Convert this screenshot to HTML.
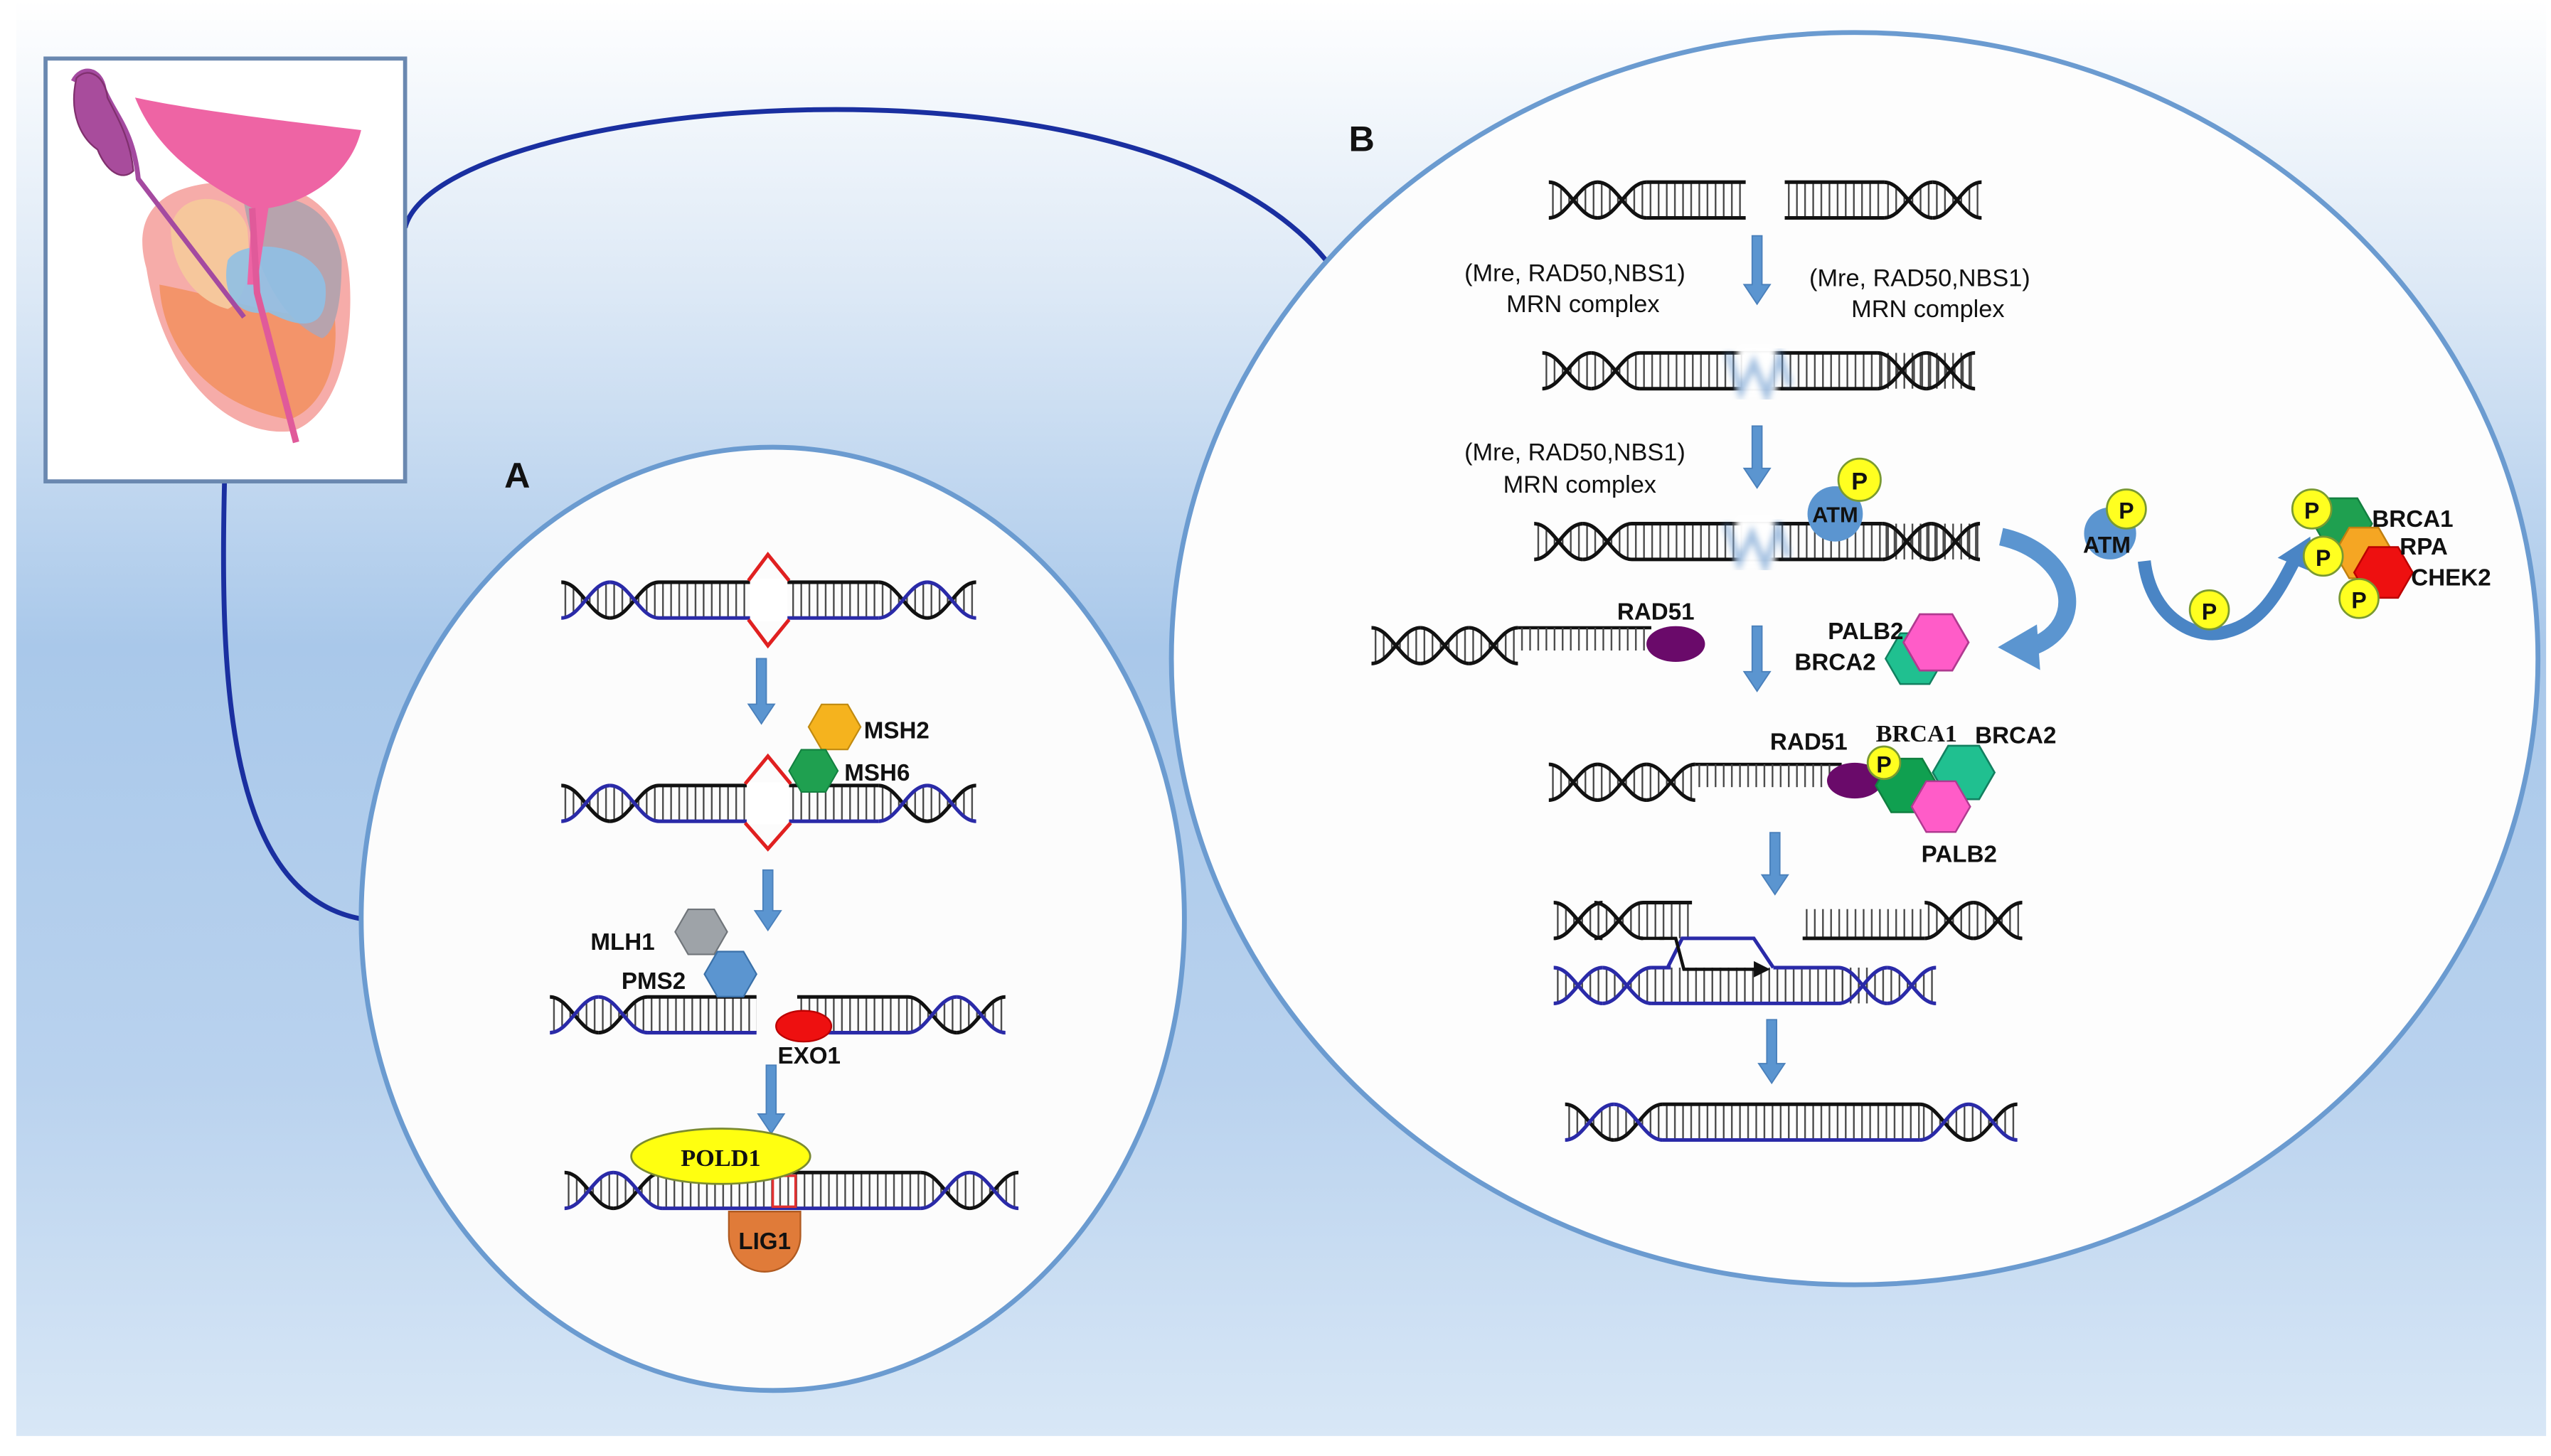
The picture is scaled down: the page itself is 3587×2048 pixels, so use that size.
<!DOCTYPE html>
<html><head><meta charset="utf-8">
<style>html,body{margin:0;padding:0;background:#fff;}svg{display:block;}
text{font-family:"Liberation Sans",Arial,sans-serif;font-weight:bold;fill:#111;}
.n{font-weight:normal;font-size:15px;}
.l{font-size:14.5px;}
</style></head><body>
<svg width="3587" height="2048" viewBox="0 0 1568 895.3" preserveAspectRatio="none" xmlns="http://www.w3.org/2000/svg">
<defs>
<linearGradient id="bg" x1="0" y1="0" x2="0" y2="1">
<stop offset="0" stop-color="#ffffff"/><stop offset="0.2" stop-color="#dde9f6"/>
<stop offset="0.45" stop-color="#a9c8ea"/><stop offset="0.75" stop-color="#b9d2ee"/>
<stop offset="1" stop-color="#d8e7f6"/></linearGradient>
<pattern id="h" patternUnits="userSpaceOnUse" width="5" height="40"><line x1="2.5" y1="0" x2="2.5" y2="40" stroke="#444" stroke-width="1"/></pattern>
<filter id="bl"><feGaussianBlur stdDeviation="2"/></filter>
<g id="tk"><path d="M0,2 C12,2 18,24 30,24 L30,2 C18,2 12,24 0,24 Z" fill="url(#h)"/>
<path d="M0,2 C12,2 18,24 30,24 M0,24 C12,24 18,2 30,2" fill="none" stroke="#111" stroke-width="2.2"/></g>
<g id="tb"><path d="M0,2 C12,2 18,24 30,24 L30,2 C18,2 12,24 0,24 Z" fill="url(#h)"/>
<path d="M0,2 C12,2 18,24 30,24" fill="none" stroke="#111" stroke-width="2.2"/><path d="M0,24 C12,24 18,2 30,2" fill="none" stroke="#2a2aa8" stroke-width="2.2"/></g>
<g id="tb2"><path d="M0,2 C12,2 18,24 30,24 L30,2 C18,2 12,24 0,24 Z" fill="url(#h)"/>
<path d="M0,24 C12,24 18,2 30,2" fill="none" stroke="#111" stroke-width="2.2"/><path d="M0,2 C12,2 18,24 30,24" fill="none" stroke="#2a2aa8" stroke-width="2.2"/></g>
<g id="tbb"><path d="M0,2 C12,2 18,24 30,24 L30,2 C18,2 12,24 0,24 Z" fill="url(#h)"/>
<path d="M0,2 C12,2 18,24 30,24 M0,24 C12,24 18,2 30,2" fill="none" stroke="#2a2aa8" stroke-width="2.2"/></g>
<polygon id="hx" points="1,0 .5,.866 -.5,.866 -1,0 -.5,-.866 .5,-.866"/>
</defs>

<rect width="1568" height="895.3" fill="#fff"/>
<rect x="10" y="0" width="1555" height="883" fill="url(#bg)"/>

<path d="M249,140 C270,60 700,20 815,160" fill="none" stroke="#1a2fa0" stroke-width="3"/>
<path d="M138,296 C135,420 140,550 222,565" fill="none" stroke="#1a2fa0" stroke-width="3"/>

<rect x="28" y="36" width="221" height="260" fill="#fff" stroke="#6a88b0" stroke-width="2.5"/>
<path d="M90,165 C80,130 100,110 150,112 C200,112 218,140 215,195 C212,240 195,260 180,265 C140,270 100,230 90,165 Z" fill="#f5a3a0" opacity="0.9"/>
<path d="M98,175 C100,215 130,250 178,258 C200,250 210,220 205,190 C180,200 150,185 98,175 Z" fill="#f3946a"/>
<path d="M105,140 C110,115 145,118 152,140 C155,170 150,185 140,190 C120,185 105,165 105,140 Z" fill="#f6c79c"/>
<path d="M150,125 C175,115 205,125 210,160 C210,190 205,205 198,208 C180,200 160,180 150,125 Z" fill="#b7a3ad"/>
<path d="M140,160 C150,145 195,150 200,175 C202,200 190,205 165,192 C150,195 135,185 140,160 Z" fill="#8fc0e6" opacity="0.9"/>
<path d="M83,60 C120,68 180,75 222,80 C215,110 185,125 165,128 L158,175 L152,175 L155,128 C120,110 95,90 83,60 Z" fill="#ee64a4"/>
<path d="M155,128 L158,180 L182,272" fill="none" stroke="#e05a9a" stroke-width="4"/>
<path d="M45,50 C50,40 62,42 64,55 C70,70 82,80 85,110 L150,195" fill="none" stroke="#a44aa0" stroke-width="3"/>
<path d="M47,48 C55,40 65,48 66,60 C72,72 80,85 82,105 C75,112 65,105 60,92 C50,85 42,70 47,48 Z" fill="#a84c9c" stroke="#80306e" stroke-width="1"/>

<ellipse cx="475" cy="565" rx="253" ry="290" fill="#fcfcfc" stroke="#6b9bd0" stroke-width="3"/>
<ellipse cx="1140" cy="405" rx="420" ry="385" fill="#fdfdfd" stroke="#6b9bd0" stroke-width="3"/>
<text x="310" y="300" style="font-size:22px">A</text>
<text x="829" y="93" style="font-size:22px">B</text>

<g fill="#5b95d0" stroke="#4a80bb" stroke-width="0.8">
<polygon points="465,405 471,405 471,433 476,433 468,445 460,433 465,433"/>
<polygon points="469,535 475,535 475,560 480,560 472,572 464,560 469,560"/>
<polygon points="471,655 477,655 477,685 482,685 474,697 466,685 471,685"/>
<polygon points="1077,145 1083,145 1083,175 1088,175 1080,187 1072,175 1077,175"/>
<polygon points="1077,262 1083,262 1083,288 1088,288 1080,300 1072,288 1077,288"/>
<polygon points="1077,385 1083,385 1083,413 1088,413 1080,425 1072,413 1077,413"/>
<polygon points="1088,512 1094,512 1094,538 1099,538 1091,550 1083,538 1088,538"/>
<polygon points="1086,627 1092,627 1092,654 1097,654 1089,666 1081,654 1086,654"/>
</g>

<g transform="translate(345,356)">
<use href="#tb"/><use href="#tb2" x="30"/>
<rect x="60" y="2" width="55" height="22" fill="url(#h)"/><rect x="140" y="2" width="55" height="22" fill="url(#h)"/>
<line x1="60" y1="2" x2="195" y2="2" stroke="#111" stroke-width="2.2"/>
<line x1="60" y1="24" x2="195" y2="24" stroke="#2a2aa8" stroke-width="2.2"/>
<use href="#tb" x="195"/><use href="#tb2" x="225"/>
<rect x="116" y="0" width="23" height="26" fill="#fff"/>
<polyline points="115,1 127,-15 140,1" fill="none" stroke="#e02020" stroke-width="2.2"/>
<polyline points="115,25 127,41 140,25" fill="none" stroke="#e02020" stroke-width="2.2"/>
</g>
<g transform="translate(345,481)">
<use href="#tb"/><use href="#tb2" x="30"/>
<rect x="60" y="2" width="53" height="22" fill="url(#h)"/><rect x="141" y="2" width="54" height="22" fill="url(#h)"/>
<line x1="60" y1="2" x2="195" y2="2" stroke="#111" stroke-width="2.2"/>
<line x1="60" y1="24" x2="195" y2="24" stroke="#2a2aa8" stroke-width="2.2"/>
<use href="#tb" x="195"/><use href="#tb2" x="225"/>
<rect x="114" y="0" width="26" height="26" fill="#fff"/>
<polyline points="113,1 127,-16 141,1" fill="none" stroke="#e02020" stroke-width="2.2"/>
<polyline points="113,25 127,41 141,25" fill="none" stroke="#e02020" stroke-width="2.2"/>
</g>
<use href="#hx" transform="translate(513,447) scale(16)" fill="#f5b31e" stroke="#c08a10" stroke-width="0.06"/>
<use href="#hx" transform="translate(500,474) scale(15)" fill="#1fa050" stroke="#138040" stroke-width="0.06"/>
<text class="l" x="531" y="454">MSH2</text>
<text class="l" x="519" y="480">MSH6</text>

<g transform="translate(338,611)">
<use href="#tb"/><use href="#tb2" x="30"/>
<rect x="60" y="2" width="67" height="22" fill="url(#h)"/>
<line x1="60" y1="2" x2="127" y2="2" stroke="#111" stroke-width="2.2"/>
<line x1="60" y1="24" x2="127" y2="24" stroke="#2a2aa8" stroke-width="2.2"/>
</g>
<g transform="translate(490,611)">
<rect x="0" y="2" width="68" height="22" fill="url(#h)"/>
<line x1="0" y1="2" x2="68" y2="2" stroke="#111" stroke-width="2.2"/>
<line x1="0" y1="24" x2="68" y2="24" stroke="#2a2aa8" stroke-width="2.2"/>
<use href="#tb" x="68"/><use href="#tb2" x="98"/>
</g>
<use href="#hx" transform="translate(431,573) scale(16)" fill="#9ea3a8" stroke="#70757a" stroke-width="0.06"/>
<use href="#hx" transform="translate(449,599) scale(16)" fill="#5b95d0" stroke="#3a70a8" stroke-width="0.06"/>
<text class="l" x="363" y="584">MLH1</text>
<text class="l" x="382" y="608">PMS2</text>
<ellipse cx="494" cy="631" rx="17" ry="9.5" fill="#ee1010" stroke="#b00" stroke-width="1"/>
<text class="l" x="478" y="654">EXO1</text>

<g transform="translate(347,719)">
<use href="#tb"/><use href="#tb2" x="30"/>
<rect x="60" y="2" width="159" height="22" fill="url(#h)"/>
<line x1="60" y1="2" x2="219" y2="2" stroke="#111" stroke-width="2.2"/>
<line x1="60" y1="24" x2="219" y2="24" stroke="#2a2aa8" stroke-width="2.2"/>
<use href="#tb" x="219"/><use href="#tb2" x="249"/>
<rect x="128" y="4" width="14" height="19" fill="none" stroke="#e03030" stroke-width="1.5"/>
</g>
<path d="M448,745 L492,745 L492,760 A22,22 0 0 1 448,760 Z" fill="#e07b39" stroke="#b05a20" stroke-width="1"/>
<text class="l" x="470" y="768" text-anchor="middle">LIG1</text>
<ellipse cx="443" cy="711" rx="55" ry="17" fill="#ffff10" stroke="#7a8a30" stroke-width="1.2"/>
<text x="443" y="717" text-anchor="middle" style="font-family:'Liberation Serif',serif;font-size:15px">POLD1</text>

<g transform="translate(952,110)">
<use href="#tk"/><use href="#tk" x="30"/>
<rect x="60" y="2" width="61" height="22" fill="url(#h)"/>
<line x1="60" y1="2" x2="121" y2="2" stroke="#111" stroke-width="2.2"/><line x1="60" y1="24" x2="121" y2="24" stroke="#111" stroke-width="2.2"/>
</g>
<g transform="translate(1097,110)">
<rect x="0" y="2" width="61" height="22" fill="url(#h)"/>
<line x1="0" y1="2" x2="61" y2="2" stroke="#111" stroke-width="2.2"/><line x1="0" y1="24" x2="61" y2="24" stroke="#111" stroke-width="2.2"/>
<use href="#tk" x="61"/><use href="#tk" x="91"/>
</g>
<text class="n" x="968" y="173" text-anchor="middle">(Mre, RAD50,NBS1)</text>
<text class="n" x="973" y="192" text-anchor="middle">MRN complex</text>
<text class="n" x="1180" y="176" text-anchor="middle">(Mre, RAD50,NBS1)</text>
<text class="n" x="1185" y="195" text-anchor="middle">MRN complex</text>

<g transform="translate(948,215)">
<use href="#tk"/><use href="#tk" x="30"/>
<rect x="60" y="2" width="206" height="22" fill="url(#h)"/>
<line x1="60" y1="2" x2="206" y2="2" stroke="#111" stroke-width="2.2"/><line x1="60" y1="24" x2="206" y2="24" stroke="#111" stroke-width="2.2"/>
<use href="#tk" x="206"/><use href="#tk" x="236"/>
<rect x="120" y="-2" width="24" height="30" fill="#ffffff" filter="url(#bl)"/>
<path d="M114,2 L122,26 L130,8 L138,28 L146,4 L152,22" fill="none" stroke="#5b8fc9" stroke-width="4" opacity="0.55" filter="url(#bl)"/>
</g>
<text class="n" x="968" y="283" text-anchor="middle">(Mre, RAD50,NBS1)</text>
<text class="n" x="971" y="303" text-anchor="middle">MRN complex</text>

<g transform="translate(943,320)">
<use href="#tk"/><use href="#tk" x="30"/>
<rect x="60" y="2" width="214" height="22" fill="url(#h)"/>
<line x1="60" y1="2" x2="214" y2="2" stroke="#111" stroke-width="2.2"/><line x1="60" y1="24" x2="214" y2="24" stroke="#111" stroke-width="2.2"/>
<use href="#tk" x="214"/><use href="#tk" x="244"/>
<rect x="124" y="-2" width="24" height="30" fill="#ffffff" filter="url(#bl)"/>
<path d="M118,2 L126,26 L134,8 L142,28 L150,4 L156,22" fill="none" stroke="#5b8fc9" stroke-width="4" opacity="0.55" filter="url(#bl)"/>
</g>
<circle cx="1128" cy="316" r="17" fill="#5b95d0"/>
<circle cx="1143" cy="295" r="13" fill="#ffff20" stroke="#7a9a30" stroke-width="1.2"/>
<text x="1143" y="301" text-anchor="middle" style="font-size:15px">P</text>
<text x="1128" y="321" text-anchor="middle" style="font-size:13.5px">ATM</text>

<path d="M1230,330 C1275,340 1285,385 1248,398" fill="none" stroke="#5b95d0" stroke-width="11"/>
<polygon points="1228,398 1252,384 1254,412" fill="#5b95d0"/>

<circle cx="1297" cy="328" r="16" fill="#5b95d0"/>
<circle cx="1307" cy="313" r="12" fill="#ffff20" stroke="#7a9a30" stroke-width="1.2"/>
<text x="1307" y="319" text-anchor="middle" style="font-size:14px">P</text>
<text x="1295" y="340" text-anchor="middle" style="font-size:14px">ATM</text>
<path d="M1318,345 C1322,380 1350,395 1370,388 C1392,382 1402,360 1410,345" fill="none" stroke="#4a85c5" stroke-width="8"/>
<polygon points="1400,343 1420,330 1422,352" fill="#4a85c5"/>
<circle cx="1358" cy="375" r="12" fill="#ffff20" stroke="#7a9a30" stroke-width="1.2"/>
<text x="1358" y="381" text-anchor="middle" style="font-size:14px">P</text>
<use href="#hx" transform="translate(1440,322) scale(18)" fill="#1fa050" stroke="#138040" stroke-width="0.06"/>
<use href="#hx" transform="translate(1453,340) scale(18)" fill="#f5a623" stroke="#c08010" stroke-width="0.06"/>
<use href="#hx" transform="translate(1465,352) scale(18)" fill="#ee1010" stroke="#b00" stroke-width="0.06"/>
<circle cx="1421" cy="313" r="12" fill="#ffff20" stroke="#7a9a30" stroke-width="1.2"/><text x="1421" y="319" text-anchor="middle" style="font-size:14px">P</text>
<circle cx="1428" cy="342" r="12" fill="#ffff20" stroke="#7a9a30" stroke-width="1.2"/><text x="1428" y="348" text-anchor="middle" style="font-size:14px">P</text>
<circle cx="1450" cy="368" r="12" fill="#ffff20" stroke="#7a9a30" stroke-width="1.2"/><text x="1450" y="374" text-anchor="middle" style="font-size:14px">P</text>
<text class="l" x="1458" y="324">BRCA1</text>
<text class="l" x="1475" y="341">RPA</text>
<text class="l" x="1482" y="360">CHEK2</text>

<g transform="translate(843,384)">
<use href="#tk"/><use href="#tk" x="30"/><use href="#tk" x="60"/>
<line x1="90" y1="2" x2="172" y2="2" stroke="#111" stroke-width="2"/>
<rect x="90" y="2" width="80" height="14" fill="url(#h)"/>
</g>
<ellipse cx="1030" cy="396" rx="18" ry="11" fill="#6a0a6a"/>
<text class="l" x="994" y="381">RAD51</text>
<use href="#hx" transform="translate(1177,405) scale(18)" fill="#20c090" stroke="#128060" stroke-width="0.06"/>
<use href="#hx" transform="translate(1190,395) scale(20)" fill="#ff5cc8" stroke="#b03a90" stroke-width="0.06"/>
<text class="l" x="1170" y="393" text-anchor="end">PALB2</text>
<text class="l" x="1153" y="412" text-anchor="end">BRCA2</text>

<g transform="translate(952,468)">
<use href="#tk"/><use href="#tk" x="30"/><use href="#tk" x="60"/>
<line x1="90" y1="2" x2="180" y2="2" stroke="#111" stroke-width="2"/>
<rect x="90" y="2" width="85" height="14" fill="url(#h)"/>
</g>
<ellipse cx="1140" cy="480" rx="17" ry="11" fill="#6a0a6a"/>
<use href="#hx" transform="translate(1207,475) scale(19)" fill="#20c090" stroke="#128060" stroke-width="0.06"/>
<use href="#hx" transform="translate(1172,483) scale(19)" fill="#10a050" stroke="#108040" stroke-width="0.06"/>
<use href="#hx" transform="translate(1193,496) scale(18)" fill="#ff5cc8" stroke="#b03a90" stroke-width="0.06"/>
<circle cx="1158" cy="469" r="10" fill="#ffff20" stroke="#7a9a30" stroke-width="1.2"/><text x="1158" y="475" text-anchor="middle" style="font-size:14px">P</text>
<text class="l" x="1088" y="461">RAD51</text>
<text x="1153" y="456" style="font-family:'Liberation Serif',serif;font-size:15px">BRCA1</text>
<text class="l" x="1214" y="457">BRCA2</text>
<text class="l" x="1181" y="530">PALB2</text>

<g transform="translate(955,553)">
<use href="#tk"/><use href="#tk" x="25"/>
<rect x="55" y="2" width="30" height="22" fill="url(#h)"/>
<line x1="55" y1="2" x2="85" y2="2" stroke="#111" stroke-width="2.2"/>
<line x1="55" y1="24" x2="68" y2="24" stroke="#111" stroke-width="2"/>
</g>
<g transform="translate(1108,553)">
<rect x="0" y="6" width="75" height="18" fill="url(#h)"/>
<line x1="0" y1="24" x2="75" y2="24" stroke="#111" stroke-width="2.2"/>
<use href="#tk" x="75"/><use href="#tk" x="105"/>
</g>
<g transform="translate(955,593)">
<use href="#tbb"/><use href="#tbb" x="30"/>
<rect x="60" y="2" width="135" height="22" fill="url(#h)"/>
<line x1="60" y1="24" x2="175" y2="24" stroke="#2a2aa8" stroke-width="2.2"/>
<line x1="60" y1="2" x2="72" y2="2" stroke="#2a2aa8" stroke-width="2.2"/>
<line x1="135" y1="2" x2="175" y2="2" stroke="#2a2aa8" stroke-width="2.2"/>
<use href="#tbb" x="175"/><use href="#tbb" x="205"/>
</g>
<polyline points="1025,595 1034,577 1078,577 1090,595" fill="none" stroke="#2a2aa8" stroke-width="2.2"/>
<polyline points="1020,577 1030,577 1035,596 1080,596" fill="none" stroke="#111" stroke-width="2"/>
<polygon points="1078,591 1088,596 1078,601" fill="#111"/>

<g transform="translate(962,677)">
<use href="#tb"/><use href="#tb2" x="30"/>
<rect x="60" y="2" width="158" height="22" fill="url(#h)"/>
<line x1="60" y1="2" x2="218" y2="2" stroke="#111" stroke-width="2.2"/>
<line x1="60" y1="24" x2="218" y2="24" stroke="#2a2aa8" stroke-width="2.2"/>
<use href="#tb" x="218"/><use href="#tb2" x="248"/>
</g>
</svg>
</body></html>
